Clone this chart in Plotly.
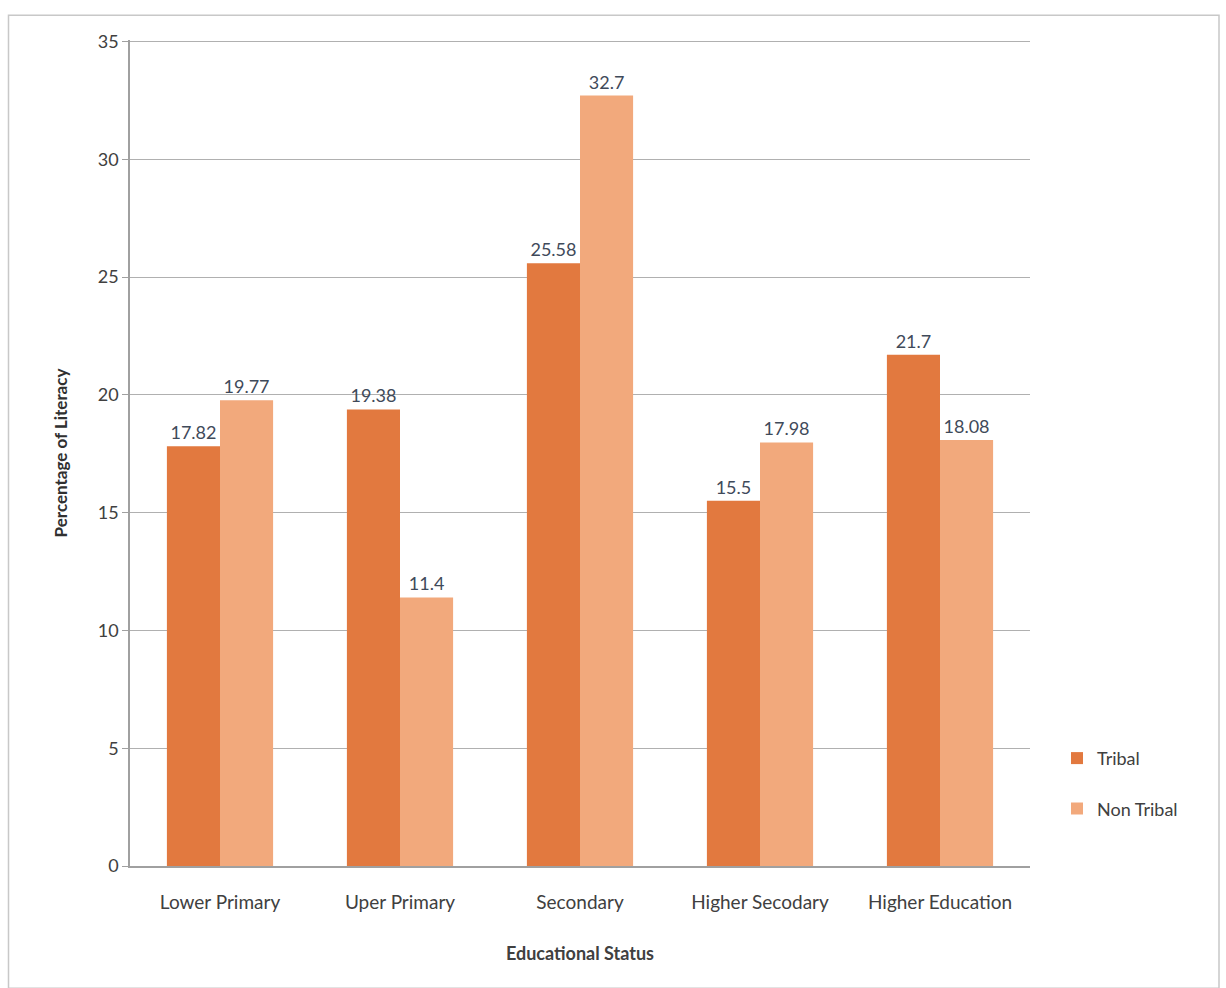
import plotly.graph_objects as go

categories = ["Lower Primary", "Uper Primary", "Secondary", "Higher Secodary", "Higher Education"]
tribal = [17.82, 19.38, 25.58, 15.5, 21.7]
non_tribal = [19.77, 11.4, 32.7, 17.98, 18.08]
y_ticks = [0, 5, 10, 15, 20, 25, 30, 35]

FONT = "Lato, Open Sans, sans-serif"

fig = go.Figure()
fig.add_trace(go.Bar(
    name="Tribal", x=categories, y=tribal, legendgroup="t",
    marker=dict(color="#E2793F", line=dict(width=0)),
    text=[str(v) for v in tribal], textposition="outside",
    textfont=dict(family=FONT, size=18, color="#3F4A5A"),
    cliponaxis=False,
))
fig.add_trace(go.Bar(
    name="Non Tribal", x=categories, y=non_tribal, legendgroup="n",
    marker=dict(color="#F2A97C", line=dict(width=0)),
    text=[str(v) for v in non_tribal], textposition="outside",
    textfont=dict(family=FONT, size=18, color="#3F4A5A"),
    cliponaxis=False,
))

fig.update_layout(
    width=1226, height=988,
    paper_bgcolor="white", plot_bgcolor="white",
    barmode="group", bargap=0.41, bargroupgap=0,
    margin=dict(l=130, r=196, t=40, b=122),
    font=dict(family=FONT, size=18, color="#404040"),
    legend=dict(
        x=1.03, y=0.10, xanchor="left", yanchor="middle",
        font=dict(family=FONT, size=18, color="#404040"),
        itemsizing="constant", traceorder="grouped", tracegroupgap=24,
        bgcolor="rgba(0,0,0,0)",
    ),
    xaxis=dict(
        title=dict(text="<b>Educational Status</b>", font=dict(size=18, color="#404040"), standoff=36),
        showline=True, linecolor="#A0A0A0", linewidth=1.5,
        ticks="outside", ticklen=18, tickcolor="rgba(0,0,0,0)",
        tickfont=dict(size=19, color="#404040"),
    ),
    yaxis=dict(
        title=dict(text="<b>Percentage of Literacy</b>", font=dict(size=17, color="#303030"), standoff=26),
        range=[0, 35.06], tickvals=y_ticks,
        showgrid=True, gridcolor="#B0B0B0", gridwidth=1.2,
        showline=True, linecolor="#A0A0A0", linewidth=1.5,
        ticks="outside", ticklen=6, tickcolor="#A0A0A0",
        tickfont=dict(size=18, color="#404040"),
        zeroline=False,
    ),
    shapes=[dict(
        type="rect", xref="paper", yref="paper",
        x0=-0.135, x1=1.21, y0=-0.148, y1=1.03,
        line=dict(color="#C8C8C8", width=1.5),
    )],
)

fig.write_html("out.html")
